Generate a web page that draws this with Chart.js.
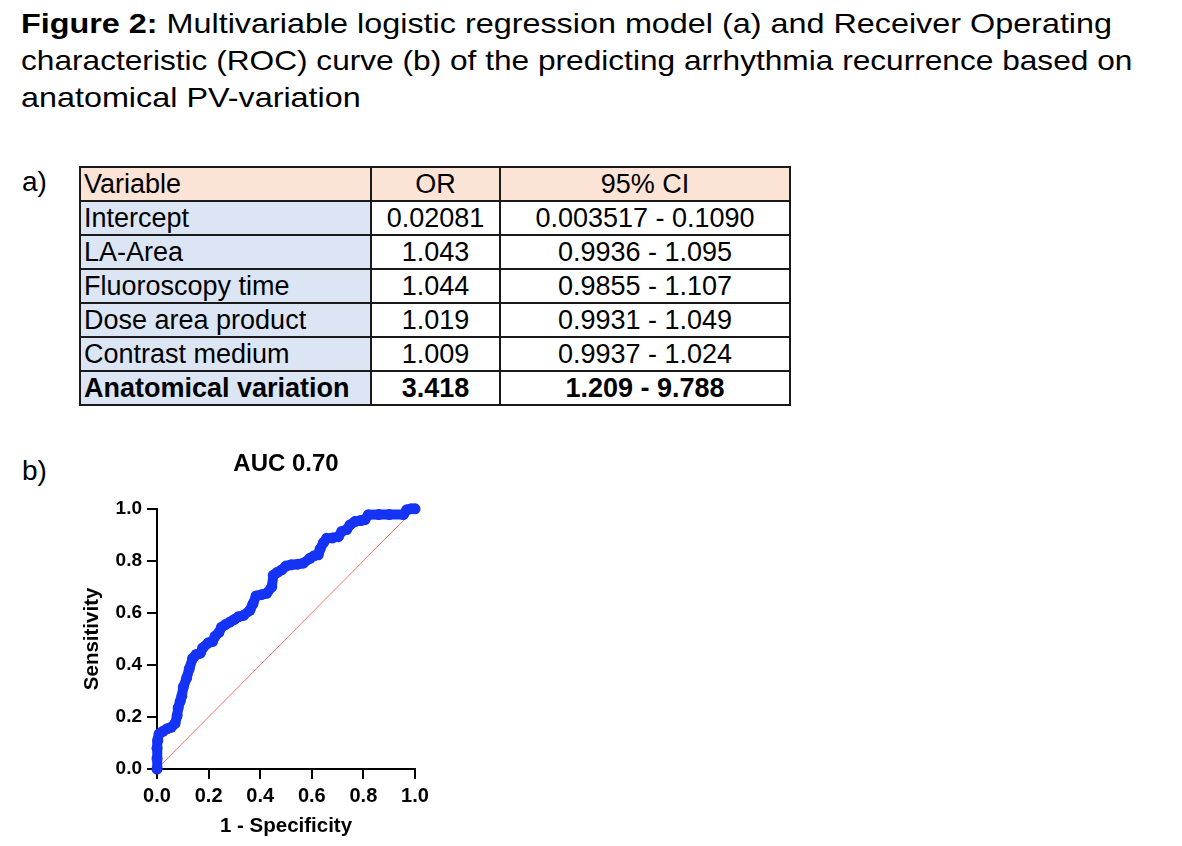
<!DOCTYPE html>
<html>
<head>
<meta charset="utf-8">
<script src="https://cdn.jsdelivr.net/npm/chart.js@4"></script>
<style>
  body { margin: 0; width: 1182px; height: 846px; background: #fff; position: relative; overflow: hidden;
         font-family: "Liberation Sans", Arial, sans-serif; color: #000; }
  #caption { position: absolute; left: 21px; top: 5px; font-size: 28px; line-height: 37px; white-space: nowrap; }
  #caption div { transform-origin: 0 0; }
  .panel { position: absolute; font-size: 28px; line-height: 28px; }
  #orTable { position: absolute; left: 79px; top: 166px; border-collapse: collapse; font-size: 27px; }
  #orTable td { border: 2px solid #1a1a1a; height: 32px; padding: 0 3px; line-height: 32px; text-align: center; white-space: nowrap; }
  #orTable td:first-child { text-align: left; background: #dbe5f4; width: 283px; }
  #orTable td.c2 { width: 121px; }
  #orTable td.c3 { width: 282px; }
  #orTable tr.head td { background: #fbe4d6; }
  #orTable tr.bold td { font-weight: bold; }
  #rocBox { position: absolute; left: 60px; top: 440px; width: 380px; height: 406px; }
</style>
</head>
<body>
<div id="caption">
  <div style="transform: scaleX(1.155);"><b>Figure 2:</b> Multivariable logistic regression model (a) and Receiver Operating</div>
  <div style="transform: scaleX(1.13);">characteristic (ROC) curve (b) of the predicting arrhythmia recurrence based on</div>
  <div style="transform: scaleX(1.155);">anatomical PV-variation</div>
</div>

<div class="panel" style="left:22px; top:168px;">a)</div>
<div class="panel" style="left:22px; top:457px;">b)</div>

<table id="orTable"><tbody id="orBody"></tbody></table>

<div id="rocBox"><canvas id="rocChart" width="380" height="406"></canvas></div>

<script>
// table a)
const variables = ['Intercept', 'LA-Area', 'Fluoroscopy time', 'Dose area product', 'Contrast medium', 'Anatomical variation'];
const oddsRatios = ['0.02081', '1.043', '1.044', '1.019', '1.009', '3.418'];
const confIntervals = ['0.003517 - 0.1090', '0.9936 - 1.095', '0.9855 - 1.107', '0.9931 - 1.049', '0.9937 - 1.024', '1.209 - 9.788'];

// ROC curve b)
const fpr = [0, 0, 0, 0.003, 0.008, 0.023, 0.04, 0.055, 0.07, 0.078, 0.082, 0.09, 0.096, 0.102, 0.115, 0.125,
  0.138, 0.152, 0.168, 0.177, 0.199, 0.215, 0.225, 0.24, 0.25, 0.265, 0.283, 0.3, 0.315, 0.335, 0.36, 0.372,
  0.384, 0.405, 0.425, 0.445, 0.451, 0.465, 0.483, 0.5, 0.52, 0.545, 0.567, 0.593, 0.61, 0.625, 0.632, 0.645,
  0.658, 0.68, 0.703, 0.716, 0.735, 0.748, 0.767, 0.79, 0.806, 0.819, 0.86, 0.9, 0.955, 0.968, 0.985, 1.0];
const tpr = [0, 0.04, 0.08, 0.11, 0.135, 0.145, 0.155, 0.16, 0.175, 0.205, 0.235, 0.26, 0.28, 0.315, 0.35, 0.385,
  0.425, 0.44, 0.445, 0.465, 0.485, 0.49, 0.51, 0.525, 0.545, 0.555, 0.565, 0.575, 0.585, 0.59, 0.61, 0.635,
  0.665, 0.67, 0.675, 0.7, 0.745, 0.755, 0.765, 0.78, 0.785, 0.787, 0.791, 0.81, 0.82, 0.823, 0.845, 0.87,
  0.887, 0.888, 0.893, 0.913, 0.92, 0.938, 0.951, 0.955, 0.958, 0.977, 0.978, 0.978, 0.978, 0.996, 1.0, 1.0];
const refLine = [0, 1];
const axisTicks = [0, 0.2, 0.4, 0.6, 0.8, 1.0];
const aucLabel = 'AUC 0.70';

// build the table
const body = document.getElementById('orBody');
body.innerHTML = '<tr class="head"><td>Variable</td><td class="c2">OR</td><td class="c3">95% CI</td></tr>';
variables.forEach((v, i) => {
  const tr = document.createElement('tr');
  if (i === variables.length - 1) tr.className = 'bold';
  tr.innerHTML = '<td>' + v + '</td><td class="c2">' + oddsRatios[i] + '</td><td class="c3">' + confIntervals[i] + '</td>';
  body.appendChild(tr);
});

// axis settings shared by x and y
function axis(titleText, tickSize, titlePad, fit) {
  return {
    type: 'linear', min: 0, max: 1,
    afterBuildTicks: s => { s.ticks = axisTicks.map(v => ({ value: v })); },
    afterFit: fit,
    border: { display: true, color: '#000', width: 2 },
    grid: { drawOnChartArea: false, drawTicks: true, tickLength: 10, color: '#000', lineWidth: 2 },
    ticks: { color: '#000', padding: 5, font: { size: tickSize, weight: 'bold' }, callback: v => v.toFixed(1), maxRotation: 0 },
    title: { display: true, text: titleText, color: '#000', font: { size: 20.5, weight: 'bold' }, padding: titlePad }
  };
}

Chart.defaults.font.family = '"Liberation Sans", Arial, sans-serif';

new Chart(document.getElementById('rocChart'), {
  type: 'line',
  data: {
    datasets: [{
      data: fpr.map((x, i) => ({ x: x, y: tpr[i] })),
      borderColor: '#1433f5',
      backgroundColor: '#1433f5',
      borderWidth: 10,
      borderCapStyle: 'round',
      borderJoinStyle: 'round',
      pointRadius: 5.5,
      pointBorderWidth: 0,
      tension: 0,
      clip: false,
      order: 1
    }, {
      data: refLine.map(v => ({ x: v, y: v })),
      borderColor: '#ff7565',
      borderWidth: 1,
      pointRadius: 0,
      order: 2
    }]
  },
  options: {
    responsive: false,
    animation: false,
    layout: { padding: { left: 0, right: 25, top: 0, bottom: 0 } },
    plugins: {
      legend: { display: false },
      tooltip: { enabled: false },
      title: { display: true, text: aucLabel, color: '#000', fullSize: false,
               font: { size: 24, weight: 'bold' }, padding: { top: 10, bottom: 30 } }
    },
    scales: {
      x: axis('1 - Specificity', 20, { top: 0, bottom: 7 }, s => { s.height = 77; }),
      y: axis('Sensitivity', 19, { top: 20, bottom: 0 }, s => { s.width = 97; })
    }
  }
});
</script>
</body>
</html>
